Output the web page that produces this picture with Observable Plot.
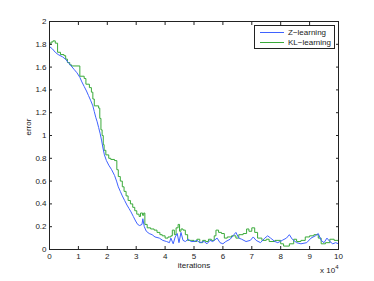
<!DOCTYPE html>
<html>
<head>
<meta charset="utf-8">
<script src="https://cdn.jsdelivr.net/npm/d3@7"></script>
<script src="https://cdn.jsdelivr.net/npm/@observablehq/plot@0.6"></script>
<style>
  html, body { margin: 0; padding: 0; background: #fff; }
  #wrap { position: relative; width: 374px; height: 281px; font-family: "Liberation Sans", Arial, sans-serif; }
  #legend { position: absolute; left: 254px; top: 25px; width: 79px; height: 22px; border: 1px solid #222; background: #fff; font-size: 8px; color: #222; }
  #legend .row { position: absolute; left: 0; height: 10px; display: flex; align-items: center; }
  #legend .sw { display: inline-block; width: 24px; height: 1px; margin-left: 5px; margin-right: 4px; }
  #mult { position: absolute; left: 320px; top: 264px; font-size: 8px; color: #222; }
  #mult sup { font-size: 6px; }
</style>
</head>
<body>
<div id="wrap"></div>
<script>
// Iterations in units of 10^4
const klX = [0,0.05,0.12,0.2,0.28,0.38,0.5,0.56,0.62,0.7,0.76,1.05,1.2,1.26,1.38,1.45,1.5,1.55,1.7,1.74,1.78,1.82,1.86,1.89,1.95,2.05,2.12,2.25,2.33,2.38,2.45,2.52,2.58,2.65,2.72,2.8,2.88,2.95,3.02,3.1,3.15,3.22,3.26,3.3,3.38,3.5,3.62,3.72,3.82,3.9,4.0,4.1,4.2,4.25,4.32,4.38,4.45,4.5,4.55,4.62,4.7,4.78,4.9,5.0,5.1,5.2,5.3,5.4,5.5,5.6,5.7,5.76,5.85,5.95,6.05,6.15,6.3,6.45,6.55,6.7,6.82,6.9,7.0,7.1,7.2,7.35,7.5,7.6,7.8,8.0,8.1,8.3,8.45,8.55,8.7,8.85,9.0,9.15,9.3,9.4,9.55,9.7,9.85,10.0];
const klY = [1.80,1.82,1.83,1.81,1.73,1.71,1.70,1.67,1.64,1.62,1.61,1.52,1.50,1.45,1.42,1.38,1.32,1.26,1.24,1.15,1.05,1.00,0.92,0.87,0.83,0.80,0.79,0.78,0.70,0.64,0.60,0.55,0.51,0.47,0.43,0.40,0.37,0.34,0.31,0.29,0.32,0.30,0.32,0.22,0.19,0.18,0.17,0.15,0.13,0.12,0.10,0.11,0.12,0.17,0.13,0.19,0.22,0.16,0.18,0.17,0.13,0.08,0.08,0.07,0.09,0.06,0.08,0.07,0.09,0.08,0.12,0.17,0.15,0.14,0.10,0.11,0.12,0.10,0.13,0.14,0.18,0.16,0.19,0.15,0.10,0.08,0.09,0.07,0.08,0.05,0.03,0.05,0.09,0.07,0.08,0.11,0.12,0.13,0.10,0.05,0.06,0.09,0.08,0.07];

const zX = [0,0.1,0.2,0.3,0.45,0.55,0.65,0.75,0.85,0.95,1.05,1.12,1.2,1.28,1.35,1.42,1.5,1.55,1.6,1.65,1.7,1.75,1.8,1.85,1.9,1.97,2.05,2.15,2.25,2.32,2.38,2.45,2.52,2.6,2.68,2.75,2.82,2.9,2.98,3.05,3.12,3.2,3.23,3.28,3.35,3.45,3.55,3.65,3.8,3.92,4.05,4.15,4.2,4.28,4.35,4.42,4.48,4.55,4.62,4.7,4.8,4.9,5.0,5.1,5.2,5.35,5.45,5.55,5.65,5.8,5.9,6.0,6.1,6.25,6.35,6.45,6.55,6.65,6.8,6.95,7.05,7.15,7.3,7.45,7.55,7.65,7.8,7.9,8.05,8.2,8.3,8.4,8.55,8.7,8.9,9.05,9.2,9.3,9.4,9.5,9.6,9.7,9.8,9.9,10.0];
const zY = [1.78,1.76,1.73,1.71,1.69,1.67,1.64,1.61,1.58,1.55,1.51,1.47,1.43,1.39,1.35,1.31,1.26,1.21,1.16,1.12,1.07,1.02,0.96,0.89,0.83,0.78,0.74,0.70,0.65,0.60,0.55,0.51,0.47,0.43,0.39,0.36,0.33,0.29,0.25,0.22,0.21,0.22,0.27,0.20,0.16,0.14,0.13,0.11,0.10,0.08,0.07,0.06,0.10,0.05,0.11,0.14,0.06,0.15,0.08,0.07,0.09,0.07,0.07,0.08,0.06,0.07,0.05,0.08,0.07,0.10,0.06,0.05,0.07,0.09,0.12,0.15,0.10,0.09,0.07,0.08,0.11,0.08,0.06,0.10,0.12,0.10,0.07,0.06,0.08,0.10,0.13,0.09,0.06,0.05,0.06,0.10,0.12,0.14,0.08,0.06,0.10,0.07,0.05,0.06,0.05];

const xTicks = [0,1,2,3,4,5,6,7,8,9,10];
const yTicks = [0,0.2,0.4,0.6,0.8,1,1.2,1.4,1.6,1.8,2];
const seriesNames = ["Z\u2212learning", "KL\u2212learning"];
const seriesColors = ["#3f62ff", "#3aaa3a"];

const kl = klX.map((x, i) => ({x, y: klY[i]}));
const z = zX.map((x, i) => ({x, y: zY[i]}));

const fmt = d => String(+d.toFixed(1));
const ink = "#222";

const chart = Plot.plot({
  width: 374,
  height: 281,
  marginLeft: 49,
  marginRight: 36,
  marginTop: 21,
  marginBottom: 32,
  style: {fontFamily: "'Liberation Sans', Arial, sans-serif", fontSize: "8px", color: ink, background: "#fff"},
  x: {domain: [0, 10]},
  y: {domain: [0, 2]},
  marks: [
    Plot.lineY(kl, {x: "x", y: "y", stroke: seriesColors[1], strokeWidth: 1, curve: "step-after"}),
    Plot.lineY(z, {x: "x", y: "y", stroke: seriesColors[0], strokeWidth: 1, curve: "linear"}),
    Plot.frame({stroke: ink, strokeWidth: 1}),
    Plot.axisX({anchor: "bottom", ticks: xTicks, tickSize: -3, tickPadding: 7, tickFormat: fmt, label: null, stroke: ink, fill: ink}),
    Plot.axisX({anchor: "top", ticks: xTicks, tickSize: -3, tickFormat: () => "", label: null, stroke: ink}),
    Plot.axisY({anchor: "left", ticks: yTicks, tickSize: -3, tickPadding: 6, tickFormat: fmt, label: null, stroke: ink, fill: ink}),
    Plot.axisY({anchor: "right", ticks: yTicks, tickSize: -3, tickFormat: () => "", label: null, stroke: ink}),
    Plot.text(["iterations"], {frameAnchor: "bottom", dy: 18, fill: ink, fontSize: 8}),
    Plot.text(["error"], {frameAnchor: "left", dx: -21, rotate: -90, fill: ink, fontSize: 8})
  ]
});

const wrap = document.getElementById("wrap");
wrap.appendChild(chart);

const legend = document.createElement("div");
legend.id = "legend";
seriesNames.forEach((name, i) => {
  const row = document.createElement("div");
  row.className = "row";
  row.style.top = (1 + i * 10) + "px";
  const sw = document.createElement("span");
  sw.className = "sw";
  sw.style.background = seriesColors[i];
  const t = document.createElement("span");
  t.textContent = name;
  row.appendChild(sw);
  row.appendChild(t);
  legend.appendChild(row);
});
wrap.appendChild(legend);

const mult = document.createElement("div");
mult.id = "mult";
mult.innerHTML = "x 10<sup>4</sup>";
wrap.appendChild(mult);
</script>
</body>
</html>
